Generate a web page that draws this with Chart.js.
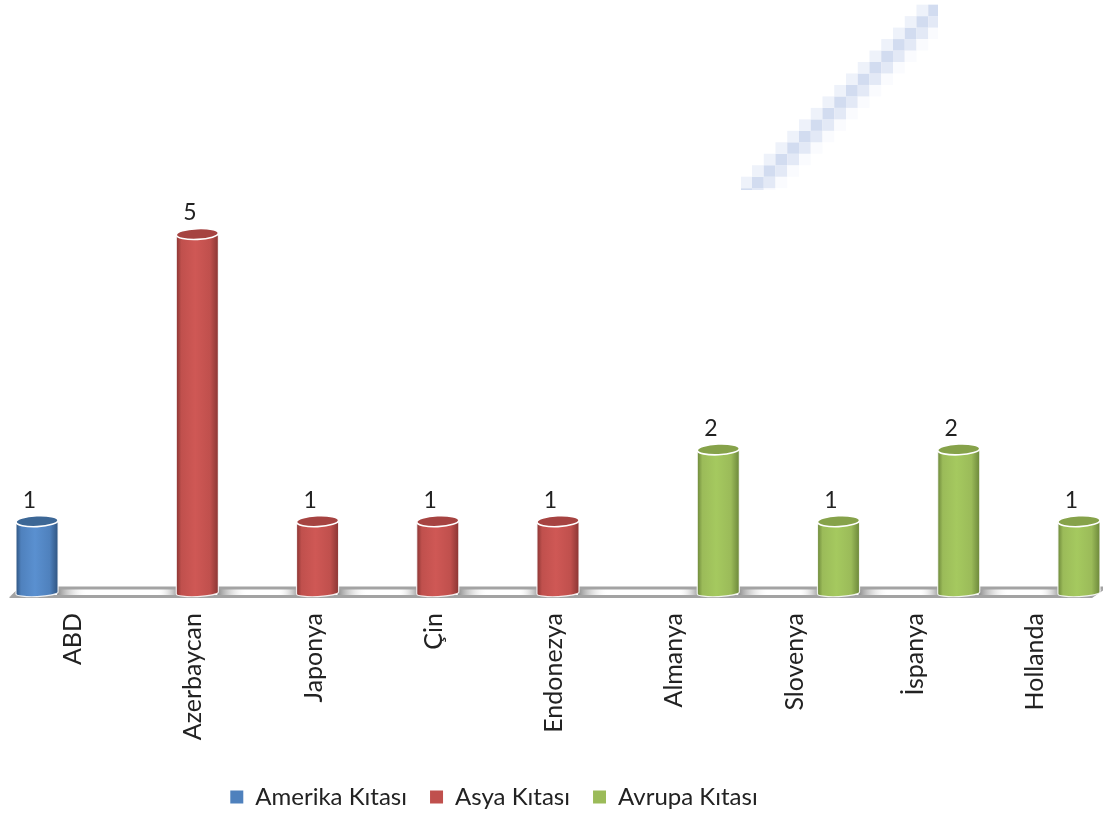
<!DOCTYPE html>
<html>
<head>
<meta charset="utf-8">
<title>Kıtalara göre ülkeler</title>
<script src="https://cdn.jsdelivr.net/npm/chart.js@4"></script>
<style>
  html, body { margin: 0; padding: 0; background: #fff; }
  canvas { display: block; }
</style>
</head>
<body>
<canvas id="countryChart" width="1103" height="818"></canvas>
<script>
// Chart data
const categories = ['ABD', 'Azerbaycan', 'Japonya', 'Çin', 'Endonezya', 'Almanya', 'Slovenya', 'İspanya', 'Hollanda'];
const seriesNames = ['Amerika Kıtası', 'Asya Kıtası', 'Avrupa Kıtası'];
const amerikaValues = [1, null, null, null, null, null, null, null, null];
const asyaValues = [null, 5, 1, 1, 1, null, null, null, null];
const avrupaValues = [null, null, null, null, null, 2, 1, 2, 1];

// Colours for each series: base, light centre, dark edge, top ellipse
const seriesColors = [
  { base: '#4f81bd', light: '#5a90d0', edge: '#2f5480', top: '#3c6796' },
  { base: '#c0504d', light: '#cf5855', edge: '#8a3533', top: '#a64341' },
  { base: '#9bbb59', light: '#a5c95f', edge: '#6c873a', top: '#86a24a' }
];

const fontName = 'Lato, "Open Sans", sans-serif';

// Pale pixelated diagonal in the top right corner of the picture
function drawDiagonal(ctx) {
  const shades = ['#eef2fa', '#d2dcf0', '#e3e9f6', '#fafbfe'];
  ctx.save();
  ctx.beginPath();
  ctx.rect(741, 3, 197, 187);
  ctx.clip();
  for (let r = -1; r <= 15; r++) {
    const x = 752 + 11.75 * r;
    const y = 176.7 - 11.47 * r;
    shades.forEach((shade, i) => {
      ctx.fillStyle = shade;
      ctx.fillRect(x + (i - 1) * 11.75, y, 11.75, 11.47);
    });
  }
  ctx.restore();
}

// Grey floor under the bars, with soft shadows next to each bar
function drawFloor(chart) {
  const ctx = chart.ctx;
  const area = chart.chartArea;
  const topY = area.bottom - 5.5;
  const lowY = area.bottom + 4;
  const left = 9;
  const right = 1092;

  ctx.save();
  ctx.beginPath();
  ctx.moveTo(left, lowY);
  ctx.lineTo(left + 11, topY);
  ctx.lineTo(1103, topY);
  ctx.lineTo(right, lowY);
  ctx.closePath();
  ctx.fillStyle = '#ffffff';
  ctx.fill();
  ctx.clip();

  chart.data.datasets.forEach((dataset, d) => {
    chart.getDatasetMeta(d).data.forEach((bar, i) => {
      if (dataset.data[i] === null) return;
      const r = bar.width / 2;
      const after = ctx.createLinearGradient(bar.x + r, 0, bar.x + r + 30, 0);
      after.addColorStop(0, '#8c8c8c');
      after.addColorStop(1, 'rgba(255,255,255,0)');
      ctx.fillStyle = after;
      ctx.fillRect(bar.x + r, topY, 30, lowY - topY);
      const before = ctx.createLinearGradient(bar.x - r - 20, 0, bar.x - r, 0);
      before.addColorStop(0, 'rgba(255,255,255,0)');
      before.addColorStop(1, '#a0a0a0');
      ctx.fillStyle = before;
      ctx.fillRect(bar.x - r - 20, topY, 20, lowY - topY);
    });
  });
  ctx.restore();

  // Back and front edges of the floor
  ctx.save();
  ctx.fillStyle = '#a3a3a3';
  ctx.beginPath();
  ctx.moveTo(left, lowY + 1);
  ctx.lineTo(left + 11, topY - 1);
  ctx.lineTo(1103, topY - 1);
  ctx.lineTo(1103, topY + 2);
  ctx.lineTo(left + 12, topY + 2);
  ctx.lineTo(left + 6, lowY - 2);
  ctx.lineTo(right + 2, lowY - 2);
  ctx.lineTo(1103, topY + 1);
  ctx.lineTo(1103, topY + 3);
  ctx.lineTo(right, lowY + 1);
  ctx.closePath();
  ctx.fill();
  ctx.restore();
}

// Draw one bar element as a cylinder
function drawCylinder(ctx, bar, colors, baseY) {
  const rx = bar.width / 2 + 1;
  const left = bar.x - rx;
  const right = bar.x + rx;
  const tilt = -0.045;

  const body = ctx.createLinearGradient(left, 0, right, 0);
  body.addColorStop(0, colors.edge);
  body.addColorStop(0.12, colors.base);
  body.addColorStop(0.45, colors.light);
  body.addColorStop(0.8, colors.base);
  body.addColorStop(1, colors.edge);

  ctx.save();
  ctx.beginPath();
  ctx.moveTo(left, bar.y);
  ctx.lineTo(left, baseY);
  ctx.ellipse(bar.x, baseY, rx, 3.6, tilt, Math.PI, 0, true);
  ctx.lineTo(right, bar.y);
  ctx.closePath();
  ctx.fillStyle = body;
  ctx.fill();
  ctx.strokeStyle = 'rgba(255,255,255,0.85)';
  ctx.lineWidth = 1.2;
  ctx.stroke();

  ctx.beginPath();
  ctx.ellipse(bar.x, bar.y, rx, 5.4, tilt, 0, Math.PI * 2);
  ctx.fillStyle = colors.top;
  ctx.fill();
  ctx.strokeStyle = '#ffffff';
  ctx.lineWidth = 1.6;
  ctx.stroke();
  ctx.restore();
}

const cylinderPlugin = {
  id: 'cylinders',
  // The legend sits left of the centre in the picture
  afterLayout(chart) {
    chart.legend.left -= 64;
    chart.legend.right -= 64;
    chart.legend.adjustHitBoxes();
  },
  beforeDraw(chart) {
    drawDiagonal(chart.ctx);
  },
  beforeDatasetsDraw(chart) {
    drawFloor(chart);
  },
  afterDatasetsDraw(chart) {
    const ctx = chart.ctx;
    const baseY = chart.scales.y.getPixelForValue(0);
    chart.data.datasets.forEach((dataset, d) => {
      chart.getDatasetMeta(d).data.forEach((bar, i) => {
        const value = dataset.data[i];
        if (value === null) return;
        drawCylinder(ctx, bar, seriesColors[d], baseY);
        // Value label above the bar
        ctx.save();
        ctx.fillStyle = '#222222';
        ctx.font = '23px ' + fontName;
        ctx.textAlign = 'center';
        ctx.textBaseline = 'middle';
        ctx.fillText(String(value), bar.x - 7.5, bar.y - 21);
        ctx.restore();
      });
    });
  }
};

const allValues = [amerikaValues, asyaValues, avrupaValues];

new Chart(document.getElementById('countryChart').getContext('2d'), {
  type: 'bar',
  data: {
    labels: categories,
    datasets: seriesNames.map((name, i) => ({
      label: name,
      data: allValues[i],
      backgroundColor: seriesColors[i].base,
      borderWidth: 0,
      categoryPercentage: 1,
      barPercentage: 1
    }))
  },
  options: {
    responsive: false,
    animation: false,
    layout: { padding: { top: 234, left: 17, right: 4, bottom: -1 } },
    plugins: {
      legend: {
        position: 'bottom',
        labels: {
          boxWidth: 13,
          boxHeight: 13,
          padding: 23,
          color: '#222222',
          font: { family: fontName, size: 24 }
        }
      },
      tooltip: { enabled: false }
    },
    scales: {
      x: {
        grid: { display: false },
        border: { display: false },
        afterFit(scale) { scale.height = 169; },
        ticks: {
          minRotation: 90,
          maxRotation: 90,
          autoSkip: false,
          padding: 12,
          labelOffset: -4,
          color: '#222222',
          font: { family: fontName, size: 25 }
        }
      },
      y: {
        display: false,
        min: 0,
        max: 5
      }
    }
  },
  plugins: [cylinderPlugin]
});
</script>
</body>
</html>
